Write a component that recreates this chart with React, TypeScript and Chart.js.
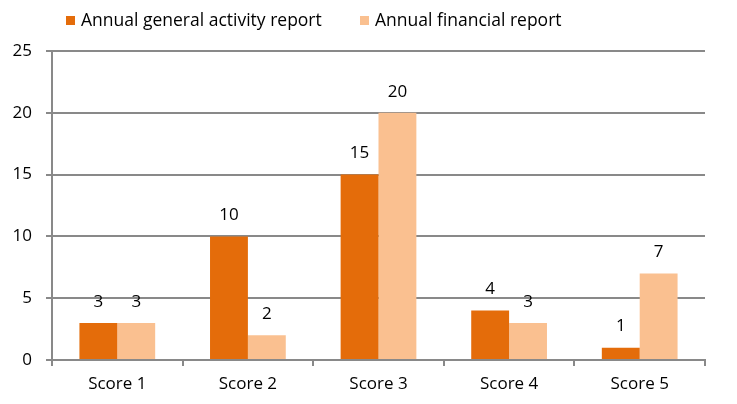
import React, { useEffect, useRef } from "react";
import { Chart, registerables } from "chart.js";

Chart.register(...registerables);

const categories = ["Score 1", "Score 2", "Score 3", "Score 4", "Score 5"];
const seriesNames = ["Annual general activity report", "Annual financial report"];
const activityValues = [3, 10, 15, 4, 1];
const financialValues = [3, 2, 20, 3, 7];
const yTicks = [0, 5, 10, 15, 20, 25];

const COLORS = ["#E46C0A", "#FAC090"];
const FONT = "'Open Sans', 'Noto Sans', sans-serif";
const SIZE = 17;

const labelPlugin = {
  id: "valueLabels",
  afterDatasetsDraw(chart: any) {
    const ctx = chart.ctx;
    ctx.save();
    ctx.font = `${SIZE}px ${FONT}`;
    ctx.fillStyle = "#000";
    ctx.textAlign = "center";
    ctx.textBaseline = "middle";
    chart.data.datasets.forEach((ds: any, i: number) => {
      const meta = chart.getDatasetMeta(i);
      meta.data.forEach((bar: any, j: number) => {
        ctx.fillText(String(ds.data[j]), bar.x, bar.y - 21);
      });
    });
    ctx.restore();
  },
};

const legendPlugin = {
  id: "customLegend",
  afterDraw(chart: any) {
    const ctx = chart.ctx;
    ctx.save();
    ctx.font = `17.5px ${FONT}`;
    ctx.textBaseline = "middle";
    const positions = [66, 360];
    seriesNames.forEach((name, i) => {
      const x = positions[i];
      ctx.fillStyle = COLORS[i];
      ctx.fillRect(x, 16, 9, 9);
      ctx.fillStyle = "#000";
      ctx.fillText(name, x + 15, 21);
    });
    ctx.restore();
  },
};

export default function App() {
  const ref = useRef<HTMLCanvasElement>(null);
  useEffect(() => {
    document.body.style.margin = "0";
    const chart = new Chart(ref.current!, {
      type: "bar",
      data: {
        labels: categories,
        datasets: [
          { label: seriesNames[0], data: activityValues, backgroundColor: COLORS[0] },
          { label: seriesNames[1], data: financialValues, backgroundColor: COLORS[1] },
        ],
      },
      plugins: [labelPlugin, legendPlugin],
      options: {
        animation: false,
        responsive: false,
        devicePixelRatio: 1,
        layout: { padding: { top: 51, right: 32, left: 0, bottom: 0 } },
        plugins: { legend: { display: false }, tooltip: { enabled: false } },
        datasets: { bar: { categoryPercentage: 0.58, barPercentage: 1 } },
        scales: {
          x: {
            grid: {
              display: true,
              drawOnChartArea: false,
              drawTicks: true,
              tickLength: 6,
              color: "#898989",
              lineWidth: 2,
              offset: true,
            },
            border: { display: true, color: "#898989", width: 2 },
            ticks: { color: "#000", font: { family: FONT, size: SIZE }, padding: 8 },
            afterFit(scale: any) {
              scale.height = 44;
            },
          },
          y: {
            min: 0,
            max: 25,
            afterBuildTicks(scale: any) {
              scale.ticks = yTicks.map((v) => ({ value: v }));
            },
            grid: {
              color: "#898989",
              lineWidth: 2,
              tickLength: 6,
            },
            border: { display: true, color: "#898989", width: 2 },
            ticks: { color: "#000", font: { family: FONT, size: SIZE }, padding: 14 },
            afterFit(scale: any) {
              scale.width = 52;
            },
          },
        },
      },
    });
    return () => chart.destroy();
  }, []);
  return (
    <div style={{ width: 737, height: 404 }}>
      <canvas ref={ref} width={737} height={404} style={{ display: "block" }} />
    </div>
  );
}
